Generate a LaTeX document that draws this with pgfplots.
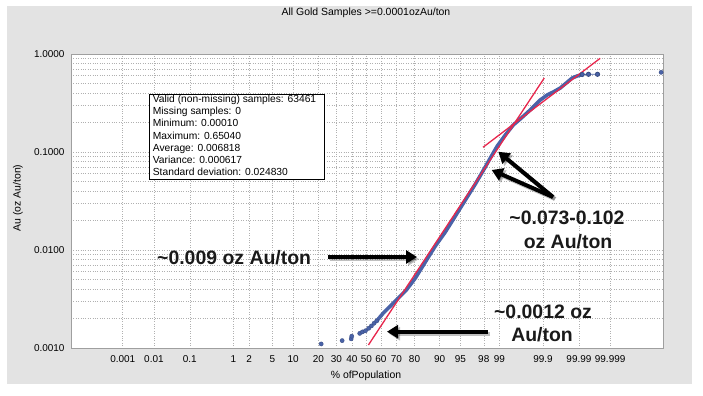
\documentclass[border=0pt]{standalone}
\usepackage{pgfplots}
\pgfplotsset{compat=1.18}
\usetikzlibrary{arrows.meta}
\usepackage{fontspec}
\setmainfont{Liberation Sans}
\definecolor{panel}{HTML}{E3E3E3}
\definecolor{ptblue}{HTML}{4A63A8}
\definecolor{fitred}{HTML}{E8264C}
\definecolor{gridc}{HTML}{B0B0B0}
\definecolor{annot}{HTML}{1A1A1A}
\newcommand{\annfont}{\fontsize{19.5}{22}\selectfont\bfseries}
\newcommand{\shtext}[4]{%
  \node[anchor=#1, font=\annfont, text=annot, inner sep=0] at (#2,#3) {#4};}
\newcommand{\sharrow}[4]{%
  \draw[black, opacity=0.25, line width=4bp, -{Triangle[length=11bp,width=13bp]}] (#1+2,#2-2) -- (#3+2,#4-2);
  \draw[black, line width=4bp, -{Triangle[length=11bp,width=13bp]}] (#1,#2) -- (#3,#4);}
\begin{document}
\begin{tikzpicture}[x=1bp,y=1bp]
\path[use as bounding box] (0,0) rectangle (703,395);
\fill[white] (0,0) rectangle (703,395);
\fill[panel] (7,11) rectangle (692,389);
\node[font=\fontsize{10.5}{12}\selectfont] at (366,382) {All Gold Samples >=0.0001ozAu/ton};
\begin{axis}[at={(71bp,47bp)}, anchor=south west, scale only axis,
  width=592bp, height=294bp,
  xmin=-5.17, xmax=5.19, ymode=log, ymin=0.001, ymax=1,
  axis background/.style={fill=white},
  axis line style={draw=gray!75, line width=0.8bp},
  xtick={-4.2649,-3.7190,-3.0902,-2.3263,-2.0537,-1.6449,-1.2816,-0.8416,-0.5244,-0.2533,0,0.2533,0.5244,0.8416,1.2816,1.6449,2.0537,2.3263,3.0902,3.7190,4.2649},
  xticklabels={0.001,0.01,0.1,1,2,5,10,20,30,40,50,60,70,80,90,95,98,99,99.9,99.99,99.999},
  ytick={0.001,0.01,0.1,1}, yticklabels={0.0010,0.0100,0.1000,1.0000},
  xmajorgrids, ymajorgrids, yminorgrids,
  major grid style={dotted, gridc, line width=0.55bp},
  minor grid style={dotted, gridc, line width=0.55bp},
  major tick length=0pt, minor tick length=0pt,
  tick style={draw=none},
  tick label style={font=\fontsize{10}{12}\selectfont},
  xticklabel style={yshift=-4bp},
  yticklabel style={xshift=-3bp},
]
% sparse lower points
\addplot[only marks, mark=*, mark size=2.1bp, mark options={fill=ptblue, draw=ptblue!80!black}] coordinates {
(-0.792,0.00110) (-0.425,0.00119) (-0.267,0.00124) (-0.257,0.00132) (-0.117,0.00141)
(-0.070,0.00146) (-0.017,0.00150) (0.040,0.00159) (0.087,0.00168) (0.135,0.00179) (0.180,0.00189)};
% dense body of the distribution
\addplot[ptblue, line width=3.6bp, line cap=round, line join=round] coordinates {
(0.180,0.00189) (0.297,0.00228) (0.420,0.00268) (0.559,0.00324) (0.699,0.00391)
(0.857,0.00518) (1.031,0.00755) (1.206,0.01099) (1.381,0.01527) (1.556,0.02223)
(1.731,0.03236) (1.906,0.04711) (2.080,0.07031) (2.168,0.08686) (2.290,0.1151)
(2.430,0.1489) (2.570,0.1887) (2.692,0.2173) (2.867,0.2686) (3.042,0.3396)
(3.164,0.3818) (3.269,0.4093) (3.392,0.4497) (3.497,0.5058) (3.601,0.5690)
(3.689,0.5970) (3.776,0.6181)};
\addplot[ptblue, line width=0.9bp, mark=*, mark size=2.1bp, mark options={fill=ptblue, draw=ptblue!80!black}] coordinates {
(3.776,0.6181) (3.886,0.6209) (4.044,0.6209)};
\addplot[only marks, mark=*, mark size=2.1bp, mark options={fill=ptblue, draw=ptblue!80!black}] coordinates {(5.157,0.6504)};
% fitted lines
\addplot[fitred, line width=1.3bp] coordinates {(0.035,0.001074) (3.112,0.5689)};
\addplot[fitred, line width=1.3bp] coordinates {(2.04,0.1117) (4.09,0.9036)};
\end{axis}
\node[font=\fontsize{10.5}{12}\selectfont] at (366,19) {\% ofPopulation};
\node[font=\fontsize{10.5}{12}\selectfont, rotate=90] at (18,197) {Au (oz Au/ton)};
% statistics box
\draw[black, line width=0.8bp, fill=white] (149.3,300.7) rectangle (324.7,215.7);
\begin{scope}[every node/.style={anchor=base west, inner sep=0, font=\fontsize{10.3}{12}\selectfont}]
\node at (152.7,292.9) {Valid (non-missing) samples: 63461};
\node at (152.7,280.6) {Missing samples: 0};
\node at (152.7,268.3) {Minimum: 0.00010};
\node at (152.7,256.0) {Maximum: 0.65040};
\node at (152.7,243.7) {Average: 0.006818};
\node at (152.7,231.4) {Variance: 0.000617};
\node at (152.7,219.1) {Standard deviation: 0.024830};
\end{scope}
% annotations
\shtext{base west}{157}{131}{\textasciitilde0.009 oz Au/ton}
\sharrow{328}{138}{417}{138}
\shtext{base}{567}{170.2}{\textasciitilde0.073-0.102}
\shtext{base}{568}{146.5}{oz Au/ton}
\sharrow{553}{198}{498.3}{243.3}
\sharrow{553}{198}{491.7}{225}
\shtext{base}{543}{76.5}{\textasciitilde0.0012 oz}
\shtext{base}{542}{53.2}{Au/ton}
\sharrow{488}{63.3}{387}{63.3}
\end{tikzpicture}
\end{document}
